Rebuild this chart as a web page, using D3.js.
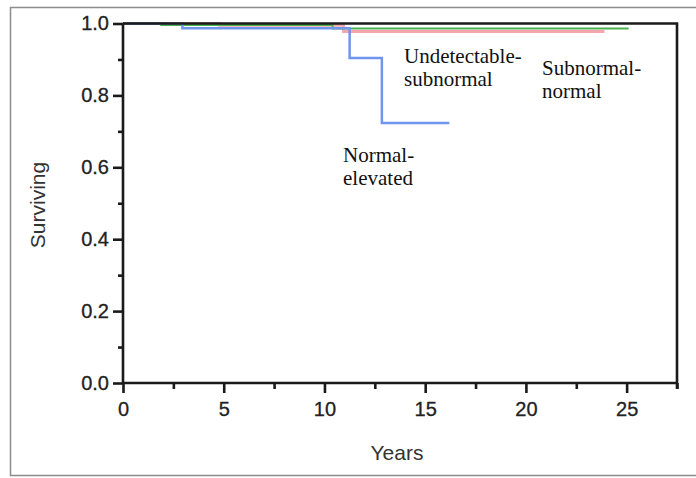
<!DOCTYPE html>
<html>
<head>
  <meta charset="utf-8">
  <script src="https://d3js.org/d3.v7.min.js"></script>
<style>
  body { margin: 0; background: #fff; }
  .tick text { font-family: "Liberation Sans", Arial, sans-serif; font-size: 20px; fill: #222; stroke: #222; stroke-width: 0.3px; }
  .domain, .tick line { stroke: #1a1a1a; stroke-width: 2.6px; }
  .lbl { font-family: "Liberation Serif", "Times New Roman", serif; font-size: 21px; fill: #111; }
  .ttl { font-family: "Liberation Sans", Arial, sans-serif; font-size: 21px; fill: #333; }
</style>
</head>
<body>
<script>
  // Kaplan-Meier step curves: [years, surviving]
  var normalElevated = [[0, 1], [2.95, 0.987], [11.25, 0.904], [12.85, 0.723], [16.2, 0.723]];
  var undetectSubnormal = [[0, 1], [4.8, 0.995], [10.95, 0.978], [23.9, 0.978]];
  var subnormalNormal = [[0, 1], [1.9, 0.996], [10.4, 0.986], [25.1, 0.986]];
  var xTicks = [0, 5, 10, 15, 20, 25];
  var yTicks = [0, 0.2, 0.4, 0.6, 0.8, 1.0];

  var width = 696, height = 478;
  var svg = d3.select("body").append("svg")
      .attr("width", width).attr("height", height);

  // outer frame
  svg.append("rect")
      .attr("x", 10.5).attr("y", 7.5)
      .attr("width", 700).attr("height", 468)
      .attr("fill", "none").attr("stroke", "#8c8c8c").attr("stroke-width", 1.5);

  var x = d3.scaleLinear().domain([0, 27.5]).range([123, 677]);
  var y = d3.scaleLinear().domain([0, 1]).range([383, 23.5]);

  var line = d3.line()
      .x(function (d) { return x(d[0]); })
      .y(function (d) { return y(d[1]); })
      .curve(d3.curveStepAfter);

  // curves
  svg.append("path").datum(undetectSubnormal).attr("d", line)
      .attr("fill", "none").attr("stroke", "#f4959c").attr("stroke-width", 3).attr("opacity", 0.85);
  svg.append("path").datum(subnormalNormal).attr("d", line)
      .attr("fill", "none").attr("stroke", "#4cb050").attr("stroke-width", 2);
  svg.append("path").datum(normalElevated).attr("d", line)
      .attr("fill", "none").attr("stroke", "#6f95ec").attr("stroke-width", 2.5);

  // plot frame top and right
  svg.append("path")
      .attr("d", "M" + x(0) + "," + y(1) + "H" + x(27.5) + "V" + (y(0) + 6))
      .attr("fill", "none").attr("stroke", "#1a1a1a").attr("stroke-width", 2.6);

  // y axis
  var yAxis = svg.append("g").attr("transform", "translate(" + x(0) + ",0)")
      .call(d3.axisLeft(y).tickValues(yTicks).tickFormat(d3.format(".1f")).tickSize(10).tickPadding(4));
  svg.append("g").attr("transform", "translate(" + x(0) + ",0)")
      .call(d3.axisLeft(y).tickValues([0.1, 0.3, 0.5, 0.7, 0.9]).tickFormat("").tickSize(5))
      .select(".domain").remove();

  // x axis
  var xAxis = svg.append("g").attr("transform", "translate(0," + y(0) + ")")
      .call(d3.axisBottom(x).tickValues(xTicks).tickSize(10).tickPadding(9));
  svg.append("g").attr("transform", "translate(0," + y(0) + ")")
      .call(d3.axisBottom(x).tickValues([2.5, 7.5, 12.5, 17.5, 22.5, 27.5]).tickFormat("").tickSize(6))
      .select(".domain").remove();

  yAxis.select(".domain").attr("d", "M0," + y(1) + "V" + y(0));
  xAxis.select(".domain").attr("d", "M" + x(0) + ",0H" + x(27.5));

  // axis titles
  svg.append("text").attr("class", "ttl").attr("x", 397).attr("y", 460)
      .attr("text-anchor", "middle").text("Years");
  svg.append("text").attr("class", "ttl").attr("transform", "translate(45,205) rotate(-90)")
      .attr("text-anchor", "middle").text("Surviving");

  // curve labels
  var labels = [
    { x: 404, y: 63, lines: ["Undetectable-", "subnormal"] },
    { x: 542, y: 75, lines: ["Subnormal-", "normal"] },
    { x: 343, y: 162, lines: ["Normal-", "elevated"] }
  ];
  labels.forEach(function (l) {
    var t = svg.append("text").attr("class", "lbl").attr("x", l.x).attr("y", l.y);
    l.lines.forEach(function (s, i) {
      t.append("tspan").attr("x", l.x).attr("dy", i ? 23 : 0).text(s);
    });
  });
</script>
</body>
</html>
